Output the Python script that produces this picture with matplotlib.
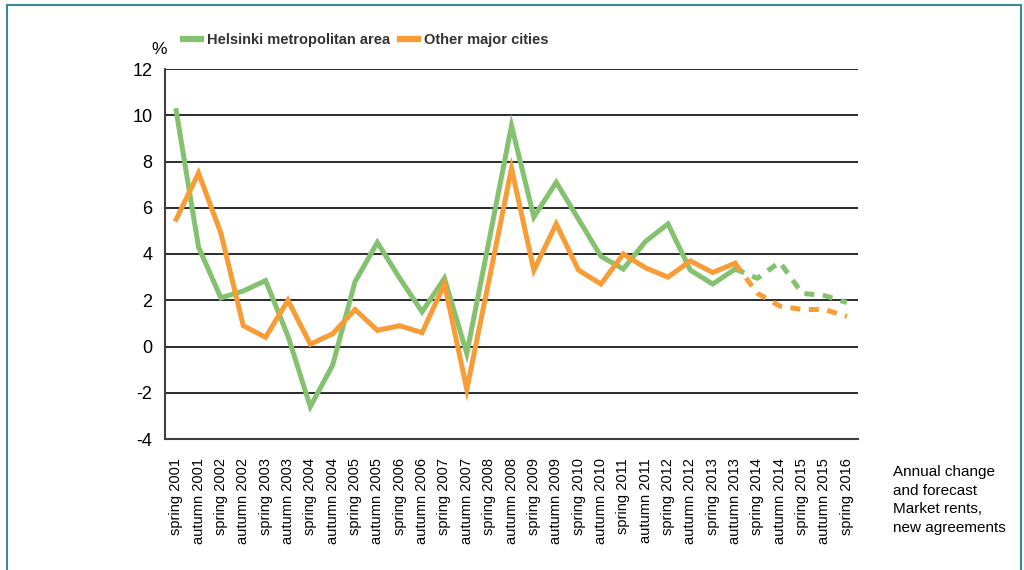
import matplotlib.pyplot as plt
from matplotlib.lines import Line2D
import numpy as np

periods = []
for year in range(2001, 2016):
    periods.append('spring %d' % year)
    periods.append('autumn %d' % year)
periods.append('spring 2016')

helsinki = [10.2, 4.3, 2.1, 2.4, 2.85, 0.45, -2.6, -0.8, 2.8, 4.5,
            2.95, 1.5, 2.95, -0.3, 4.6, 9.55, 5.6, 7.1, 5.5, 3.9,
            3.35, 4.55, 5.3, 3.3, 2.7, 3.35, 2.95, 3.65, 2.3, 2.2, 1.9]
other = [5.5, 7.5, 4.9, 0.9, 0.4, 2.0, 0.1, 0.55, 1.6, 0.7,
         0.9, 0.6, 2.7, -1.85, 2.9, 7.7, 3.3, 5.3, 3.3, 2.7,
         4.0, 3.4, 3.0, 3.7, 3.2, 3.6, 2.3, 1.75, 1.6, 1.6, 1.3]
forecast_from = periods.index('autumn 2013')

green = '#84C26F'
orange = '#F89C36'

plt.rcParams['font.family'] = ['Liberation Sans', 'DejaVu Sans']
plt.rcParams['axes.unicode_minus'] = False

fig = plt.figure(figsize=(10.24, 5.7), dpi=100)
ax = fig.add_axes([165 / 1024, 1 - 439 / 570, 693 / 1024, 370 / 570])

x = np.arange(len(periods))
k = forecast_from
for vals, col in [(helsinki, green), (other, orange)]:
    ax.plot(x[:k + 1], vals[:k + 1], color=col, lw=3.6, solid_joinstyle='miter', zorder=3)
    ax.plot(x[k:], vals[k:], color=col, lw=3.6, linestyle=(0, (2, 1.7)), zorder=3)

ax.set_xlim(-0.5, len(periods) - 0.5)
ax.set_ylim(-4, 12)
ax.set_yticks(np.arange(-4, 13, 2))
ax.set_xticks(x)
ax.set_xticklabels(periods, rotation=90, fontsize=10.5)
ax.tick_params(axis='y', labelsize=13, length=0, pad=9)
ax.tick_params(axis='x', length=0, pad=14)
ax.grid(axis='y', color='#1a1a1a', lw=1.3)
for s in ['top', 'right']:
    ax.spines[s].set_visible(False)
ax.spines['left'].set_color('#404040')
ax.spines['bottom'].set_color('#404040')
ax.spines['left'].set_linewidth(1.5)
ax.spines['bottom'].set_linewidth(1.5)

fig.text(151 / 1024, 1 - 49 / 570, '%', fontsize=12.5, ha='left', va='center')

handles = [Line2D([], [], color=green, lw=4.5), Line2D([], [], color=orange, lw=4.5)]
fig.legend(handles, ['Helsinki metropolitan area', 'Other major cities'],
           loc='center left', bbox_to_anchor=(183 / 1024, 1 - 40 / 570), ncol=2,
           frameon=False, borderaxespad=0, borderpad=0,
           handlelength=1.24, handletextpad=0.4, columnspacing=0.7,
           labelcolor='#333333',
           prop={'weight': 'bold', 'size': 10.5})

fig.text(893 / 1024, 1 - 465 / 570,
         'Annual change\nand forecast\nMarket rents,\nnew agreements',
         fontsize=11, ha='left', va='top', linespacing=1.42)

border = '#3A8A96'
fig.add_artist(Line2D([7 / 1024, 7 / 1024], [0, 1 - 5 / 570], color=border, lw=1.5, transform=fig.transFigure))
fig.add_artist(Line2D([7 / 1024, 1021 / 1024], [1 - 5 / 570, 1 - 5 / 570], color=border, lw=1.5, transform=fig.transFigure))
fig.add_artist(Line2D([1021 / 1024, 1021 / 1024], [0, 1 - 5 / 570], color=border, lw=1.5, transform=fig.transFigure))

fig.savefig('out.png', dpi=100)
